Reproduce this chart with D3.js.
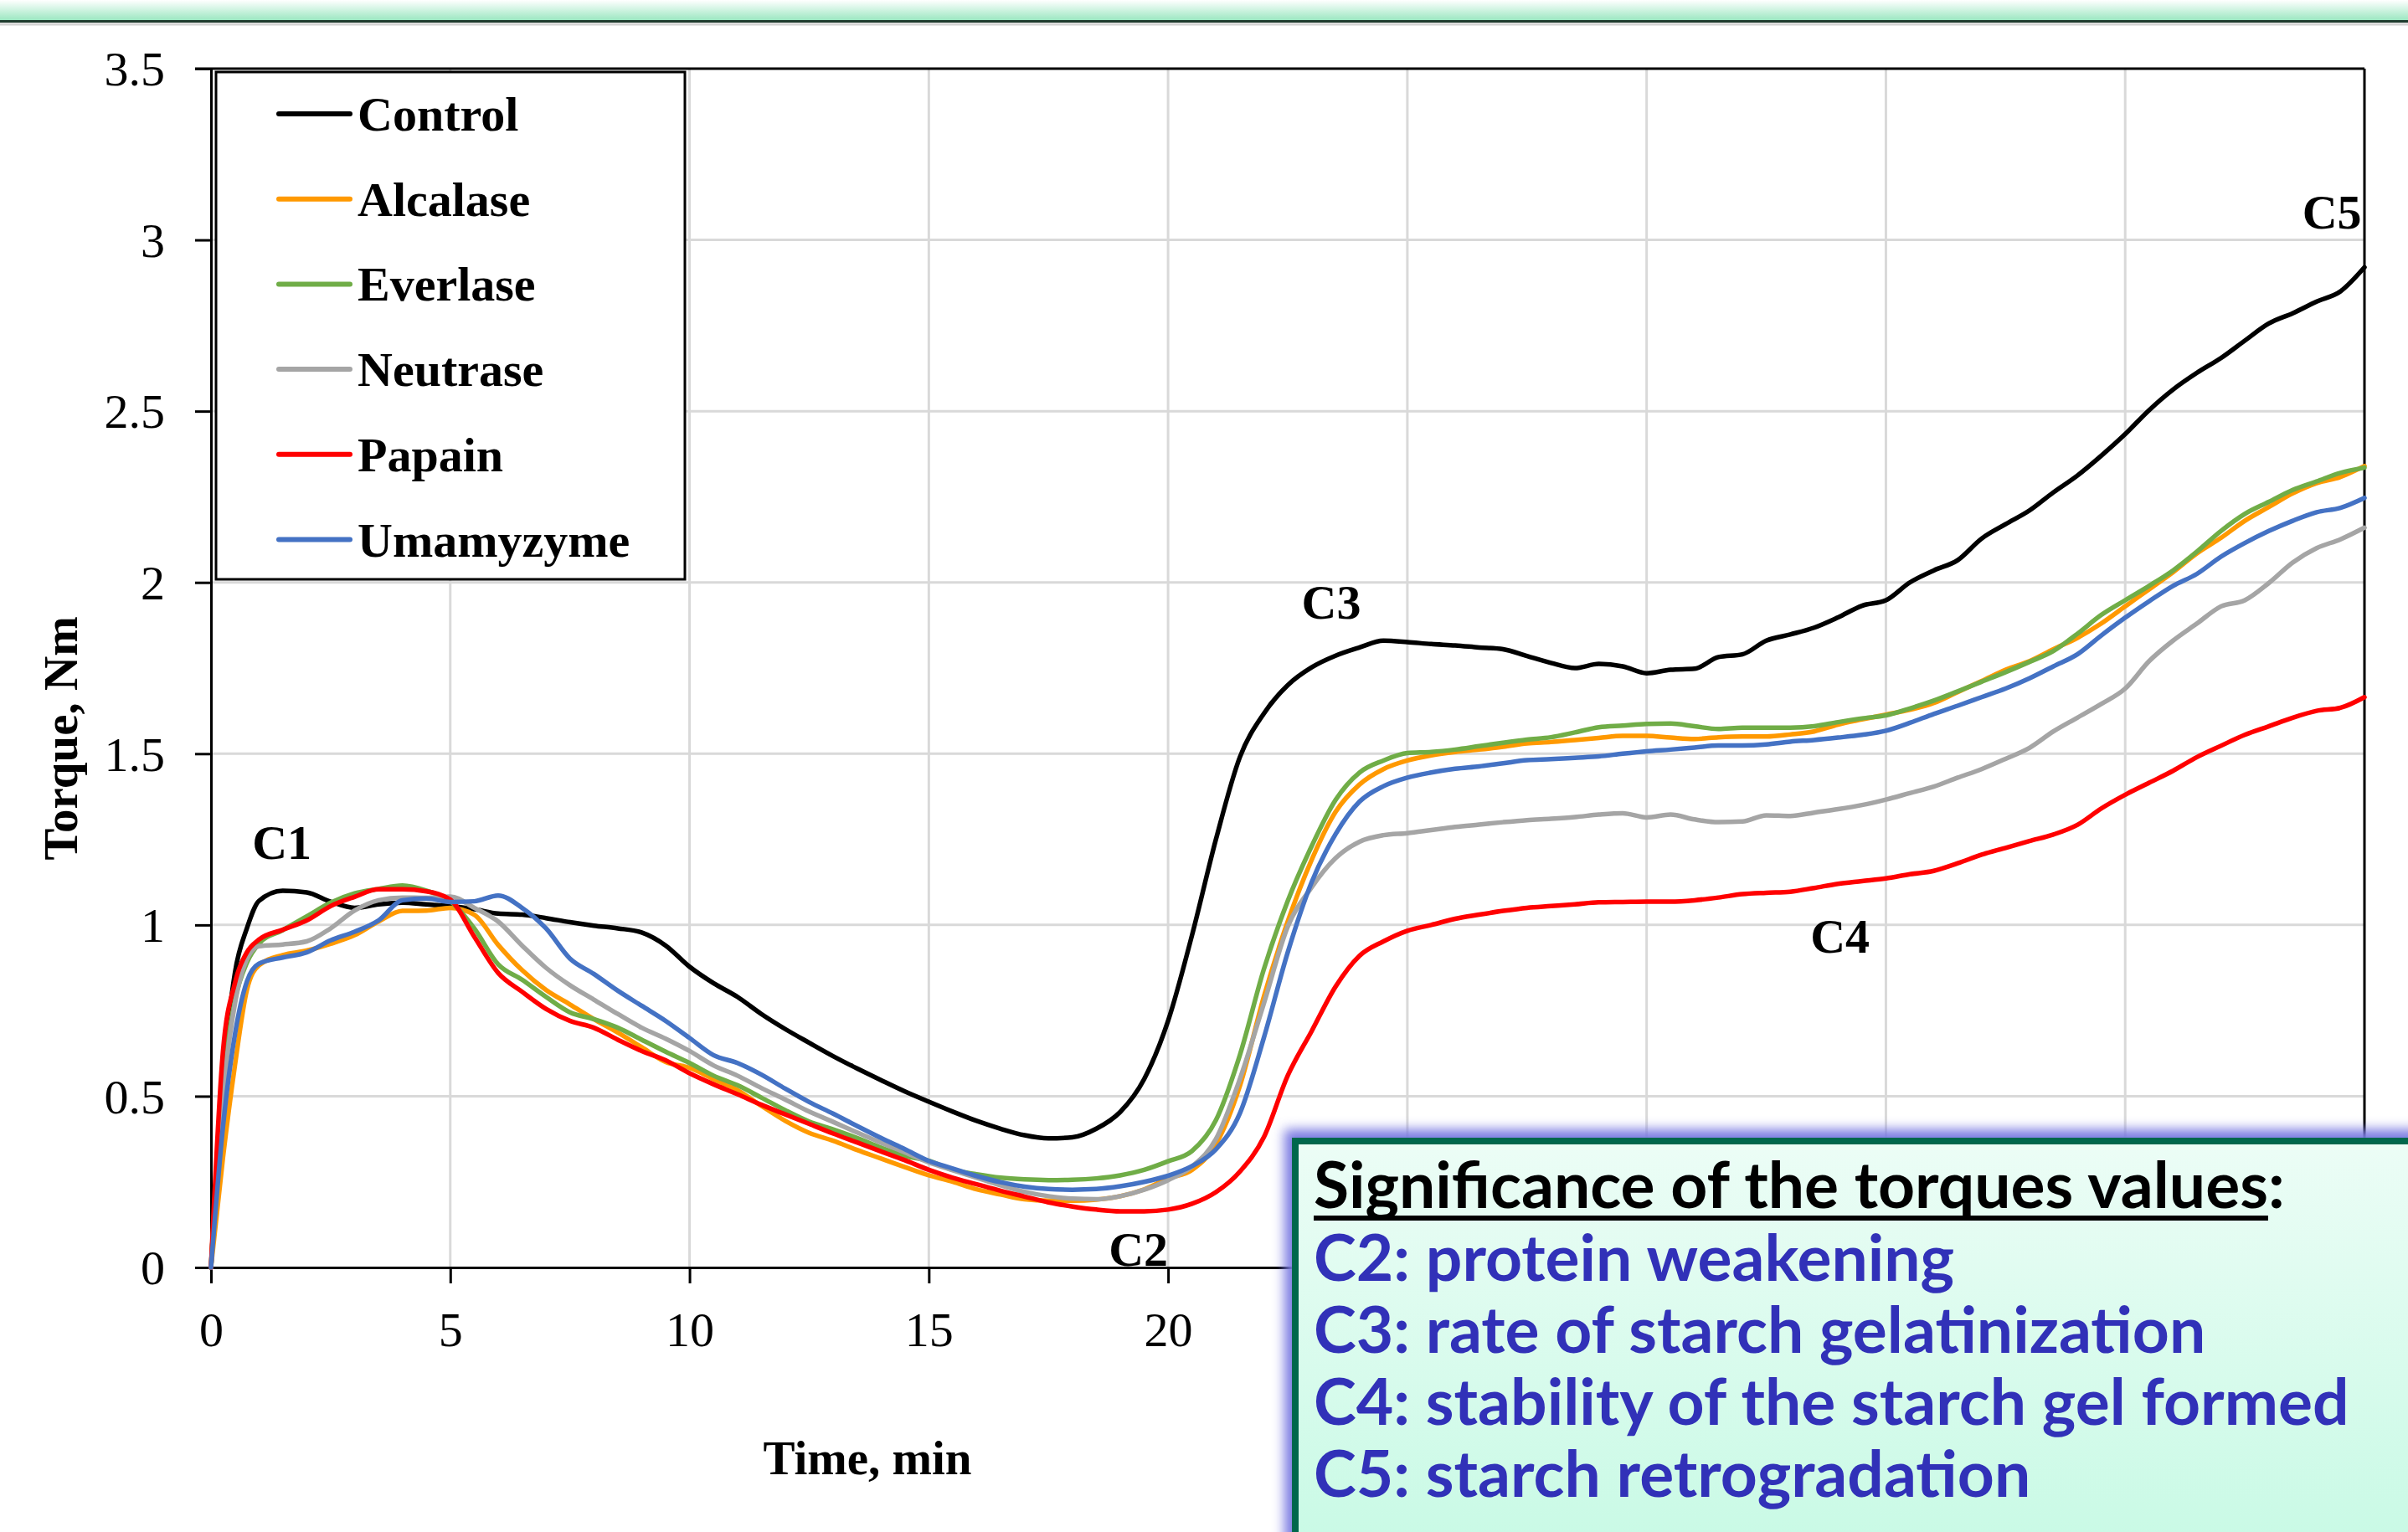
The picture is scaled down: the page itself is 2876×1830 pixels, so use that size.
<!DOCTYPE html>
<html>
<head>
<meta charset="utf-8">
<script src="https://cdn.jsdelivr.net/npm/d3@7/dist/d3.min.js"></script>
<style>
  body { margin: 0; background: #ffffff; }
  svg { display: block; }
</style>
</head>
<body>
<div id="container"></div>
<script>
// time axis (min), shared by all series
var times = [0, 0.25, 0.5, 0.75, 1, 1.5, 2, 2.5, 3, 3.5, 4, 4.5, 5, 5.5, 6, 6.5, 7, 7.5, 8, 8.5,
             9, 9.5, 10, 10.5, 11, 11.5, 12, 12.5, 13, 13.5, 14, 14.5, 15, 15.5, 16, 16.5, 17, 17.5,
             18, 18.5, 19, 19.5, 20, 20.5, 21, 21.5, 22, 22.5, 23, 23.5, 24, 24.5, 25, 25.5, 26, 26.5,
             27, 27.5, 28, 28.5, 29, 29.5, 30, 30.5, 31, 31.5, 32, 32.5, 33, 33.5, 34, 34.5, 35, 35.5,
             36, 36.5, 37, 37.5, 38, 38.5, 39, 39.5, 40, 40.5, 41, 41.5, 42, 42.5, 43, 43.5, 44, 44.5, 45];

// torque values (Nm)
var control = [0, 0.55, 0.86, 0.99, 1.07, 1.10, 1.095, 1.068, 1.05, 1.06, 1.065, 1.06, 1.055, 1.046, 1.033, 1.03, 1.02, 1.008, 0.998, 0.99,
               0.978, 0.94, 0.878, 0.83, 0.79, 0.74, 0.696, 0.656, 0.617, 0.581, 0.547, 0.514, 0.484, 0.455, 0.428, 0.405, 0.386, 0.377,
               0.38, 0.405, 0.454, 0.55, 0.72, 0.97, 1.25, 1.49, 1.617, 1.70, 1.752, 1.786, 1.81, 1.83, 1.826, 1.82, 1.816, 1.81,
               1.805, 1.785, 1.765, 1.75, 1.762, 1.755, 1.735, 1.745, 1.748, 1.782, 1.79, 1.83, 1.848, 1.868, 1.898, 1.932, 1.948, 2.0,
               2.035, 2.065, 2.128, 2.17, 2.21, 2.263, 2.312, 2.37, 2.433, 2.503, 2.563, 2.612, 2.655, 2.706, 2.756, 2.786, 2.82, 2.85, 2.92];

var alcalase = [0, 0.32, 0.59, 0.81, 0.882, 0.912, 0.925, 0.945, 0.97, 1.01, 1.041, 1.042, 1.05, 1.03, 0.942, 0.868, 0.81, 0.768, 0.725, 0.686,
                0.643, 0.60, 0.583, 0.55, 0.518, 0.472, 0.428, 0.393, 0.37, 0.343, 0.318, 0.293, 0.269, 0.25, 0.228, 0.213, 0.199, 0.195,
                0.195, 0.198, 0.208, 0.228, 0.26, 0.285, 0.36, 0.53, 0.79, 1.01, 1.19, 1.33, 1.41, 1.455, 1.48, 1.495, 1.505, 1.512,
                1.52, 1.53, 1.534, 1.54, 1.546, 1.552, 1.552, 1.547, 1.543, 1.548, 1.55, 1.55, 1.556, 1.565, 1.585, 1.60, 1.614, 1.628,
                1.648, 1.68, 1.712, 1.745, 1.77, 1.805, 1.838, 1.88, 1.93, 1.98, 2.03, 2.085, 2.13, 2.18, 2.22, 2.26, 2.29, 2.308, 2.34];

var everlase = [0, 0.54, 0.78, 0.89, 0.945, 0.985, 1.025, 1.065, 1.092, 1.105, 1.115, 1.10, 1.07, 0.99, 0.885, 0.84, 0.79, 0.745, 0.725, 0.70,
                0.665, 0.63, 0.597, 0.56, 0.532, 0.496, 0.459, 0.426, 0.403, 0.378, 0.35, 0.326, 0.311, 0.285, 0.272, 0.262, 0.257, 0.255,
                0.256, 0.26, 0.269, 0.285, 0.31, 0.34, 0.43, 0.62, 0.87, 1.07, 1.23, 1.365, 1.445, 1.48, 1.502, 1.505, 1.512, 1.522,
                1.532, 1.541, 1.548, 1.562, 1.577, 1.582, 1.587, 1.588, 1.58, 1.572, 1.576, 1.576, 1.576, 1.58, 1.592, 1.603, 1.612, 1.632,
                1.655, 1.682, 1.71, 1.738, 1.768, 1.80, 1.85, 1.905, 1.948, 1.99, 2.035, 2.09, 2.15, 2.20, 2.235, 2.27, 2.295, 2.32, 2.335];

var neutrase = [0, 0.50, 0.77, 0.90, 0.938, 0.943, 0.952, 0.99, 1.042, 1.072, 1.08, 1.079, 1.083, 1.05, 1.01, 0.94, 0.875, 0.824, 0.782, 0.74,
                0.70, 0.668, 0.632, 0.59, 0.56, 0.524, 0.49, 0.455, 0.425, 0.394, 0.364, 0.336, 0.307, 0.284, 0.262, 0.24, 0.221, 0.208,
                0.201, 0.199, 0.208, 0.227, 0.255, 0.295, 0.375, 0.55, 0.77, 0.995, 1.11, 1.195, 1.243, 1.262, 1.268, 1.277, 1.286, 1.293,
                1.30, 1.306, 1.31, 1.315, 1.322, 1.326, 1.314, 1.322, 1.308, 1.30, 1.302, 1.32, 1.318, 1.328, 1.338, 1.35, 1.366, 1.385,
                1.404, 1.43, 1.455, 1.485, 1.517, 1.565, 1.605, 1.645, 1.69, 1.77, 1.83, 1.88, 1.93, 1.948, 1.998, 2.058, 2.10, 2.126, 2.16];

var papain = [0, 0.63, 0.83, 0.92, 0.957, 0.986, 1.013, 1.055, 1.082, 1.104, 1.104, 1.098, 1.074, 0.966, 0.86, 0.805, 0.755, 0.72, 0.70, 0.665,
              0.632, 0.605, 0.567, 0.535, 0.506, 0.475, 0.447, 0.419, 0.391, 0.365, 0.339, 0.313, 0.285, 0.262, 0.243, 0.224, 0.207, 0.19,
              0.178, 0.169, 0.164, 0.164, 0.169, 0.186, 0.22, 0.28, 0.38, 0.56, 0.69, 0.82, 0.91, 0.952, 0.983, 1.0, 1.018, 1.03,
              1.041, 1.05, 1.055, 1.06, 1.066, 1.067, 1.068, 1.068, 1.072, 1.08, 1.09, 1.094, 1.097, 1.108, 1.12, 1.128, 1.136, 1.148,
              1.158, 1.18, 1.205, 1.225, 1.245, 1.264, 1.292, 1.34, 1.38, 1.415, 1.45, 1.49, 1.523, 1.555, 1.58, 1.605, 1.625, 1.634, 1.665];

var umamyzyme = [0, 0.41, 0.68, 0.835, 0.887, 0.905, 0.92, 0.955, 0.98, 1.013, 1.072, 1.077, 1.067, 1.069, 1.086, 1.05, 0.99, 0.902, 0.857, 0.808,
                 0.764, 0.72, 0.67, 0.62, 0.597, 0.563, 0.522, 0.483, 0.449, 0.413, 0.378, 0.345, 0.311, 0.289, 0.267, 0.249, 0.236, 0.229,
                 0.227, 0.229, 0.237, 0.25, 0.268, 0.296, 0.345, 0.45, 0.67, 0.92, 1.125, 1.265, 1.36, 1.405, 1.43, 1.445, 1.456, 1.463,
                 1.472, 1.481, 1.484, 1.488, 1.492, 1.50, 1.507, 1.512, 1.518, 1.524, 1.524, 1.527, 1.535, 1.54, 1.547, 1.555, 1.567, 1.59,
                 1.616, 1.64, 1.665, 1.69, 1.72, 1.755, 1.79, 1.845, 1.897, 1.945, 1.99, 2.025, 2.075, 2.115, 2.15, 2.18, 2.205, 2.218, 2.247];

var seriesNames = ["Control", "Alcalase", "Everlase", "Neutrase", "Papain", "Umamyzyme"];
var seriesValues = [control, alcalase, everlase, neutrase, papain, umamyzyme];
var seriesColors = ["#000000", "#ff9900", "#70ad47", "#a5a5a5", "#ff0000", "#4472c4"];

var xTicks = [0, 5, 10, 15, 20, 25, 30, 35, 40, 45];
// labels of 25..45 sit under the significance box in the original
var xTickLabels = ["0", "5", "10", "15", "20", "", "", "", "", ""];
var yTicks = [0, 0.5, 1, 1.5, 2, 2.5, 3, 3.5];
var yTickLabels = ["0", "0.5", "1", "1.5", "2", "2.5", "3", "3.5"];

// point labels: name, time, torque
var pointLabels = ["C1", "C2", "C3", "C4", "C5"];
var pointTimes = [0.86, 18.76, 22.79, 33.42, 43.7];
var pointTorques = [1.192, 0.005, 1.894, 0.919, 3.033];

var boxTitle = "Significance of the torques values:";
var boxLines = ["C2: protein weakening",
                "C3: rate of starch gelatinization",
                "C4: stability of the starch gel formed",
                "C5: starch retrogradation"];

makeChart();

function makeChart () {

    var width = 2876;
    var height = 1830;
    var margin = {left: 252, top: 82, right: 52, bottom: 316};
    var serif = "'Liberation Serif', 'Times New Roman', serif";

    const svg = d3.select("#container")
                  .append("svg")
                  .attr("width", width)
                  .attr("height", height);

    var defs = svg.append("defs");

    var band = defs.append("linearGradient")
                   .attr("id", "band")
                   .attr("x1", 0).attr("y1", 0).attr("x2", 0).attr("y2", 1);
    band.append("stop").attr("offset", "0%").attr("stop-color", "#ffffff");
    band.append("stop").attr("offset", "100%").attr("stop-color", "#98e6bf");

    var boxFill = defs.append("linearGradient")
                      .attr("id", "boxFill")
                      .attr("x1", 0).attr("y1", 0).attr("x2", 0).attr("y2", 1);
    boxFill.append("stop").attr("offset", "0%").attr("stop-color", "#ecfdf6");
    boxFill.append("stop").attr("offset", "100%").attr("stop-color", "#c0f9e1");

    var glow = defs.append("filter")
                   .attr("id", "glow")
                   .attr("x", "-5%").attr("y", "-10%")
                   .attr("width", "110%").attr("height", "120%");
    glow.append("feGaussianBlur").attr("stdDeviation", 7);

    // 1. slide band at the top
    svg.append("rect")
       .attr("x", 0).attr("y", 0)
       .attr("width", width).attr("height", 25)
       .attr("fill", "url(#band)");
    svg.append("line")
       .attr("x1", 0).attr("x2", width)
       .attr("y1", 25.5).attr("y2", 25.5)
       .attr("stroke", "#1e3b2e")
       .attr("stroke-width", 3);
    svg.append("line")
       .attr("x1", 0).attr("x2", width)
       .attr("y1", 29).attr("y2", 29)
       .attr("stroke", "#d4d4d4")
       .attr("stroke-width", 3);

    // 2. scales
    var xScale = d3.scaleLinear()
                   .domain([0, 45])
                   .range([margin.left, width - margin.right]);

    var yScale = d3.scaleLinear()
                   .domain([0, 3.5])
                   .range([height - margin.bottom, margin.top]);

    // 3. gridlines
    svg.append("g")
       .selectAll("line")
       .data(xTicks.slice(1, -1))
       .enter()
       .append("line")
       .attr("x1", (d) => xScale(d))
       .attr("x2", (d) => xScale(d))
       .attr("y1", yScale(0))
       .attr("y2", yScale(3.5))
       .attr("stroke", "#d9d9d9")
       .attr("stroke-width", 3);

    svg.append("g")
       .selectAll("line")
       .data(yTicks.slice(1, -1))
       .enter()
       .append("line")
       .attr("x1", xScale(0))
       .attr("x2", xScale(45))
       .attr("y1", (d) => yScale(d))
       .attr("y2", (d) => yScale(d))
       .attr("stroke", "#d9d9d9")
       .attr("stroke-width", 3);

    // 4. axes
    var xAxis = d3.axisBottom(xScale)
                  .tickValues(xTicks)
                  .tickSize(19)
                  .tickSizeOuter(0)
                  .tickPadding(34)
                  .tickFormat((d, i) => xTickLabels[i]);

    var yAxis = d3.axisLeft(yScale)
                  .tickValues(yTicks)
                  .tickSize(19)
                  .tickSizeOuter(0)
                  .tickPadding(36)
                  .tickFormat((d, i) => yTickLabels[i]);

    var gx = svg.append("g")
                .attr("transform", "translate(0, " + yScale(0) + ")")
                .call(xAxis);

    var gy = svg.append("g")
                .attr("transform", "translate(" + xScale(0) + ", 0)")
                .call(yAxis);

    [gx, gy].forEach(function (g) {
        g.select(".domain").attr("stroke", "#000").attr("stroke-width", 3);
        g.selectAll(".tick line").attr("stroke", "#000").attr("stroke-width", 3);
        g.selectAll(".tick text")
         .attr("fill", "#000")
         .style("font-family", serif)
         .style("font-size", "58px");
    });
    gy.selectAll(".tick text").attr("dy", "0.34em");
    gx.selectAll(".tick text").filter((d, i) => xTickLabels[i] === "").remove();

    // top and right frame
    svg.append("line")
       .attr("x1", xScale(0) - 19).attr("x2", xScale(45))
       .attr("y1", yScale(3.5)).attr("y2", yScale(3.5))
       .attr("stroke", "#000").attr("stroke-width", 3);
    svg.append("line")
       .attr("x1", xScale(45)).attr("x2", xScale(45))
       .attr("y1", yScale(3.5)).attr("y2", yScale(0))
       .attr("stroke", "#000").attr("stroke-width", 3);

    // 5. series lines
    var line = d3.line()
                 .x((d, i) => xScale(times[i]))
                 .y((d) => yScale(d))
                 .curve(d3.curveMonotoneX);

    svg.append("g")
       .selectAll("path")
       .data(seriesValues)
       .enter()
       .append("path")
       .attr("d", (d) => line(d))
       .attr("fill", "none")
       .attr("stroke", (d, i) => seriesColors[i])
       .attr("stroke-width", 5.5)
       .attr("stroke-linejoin", "round")
       .attr("stroke-linecap", "round");

    // 6. axis titles and point labels
    svg.append("text")
       .attr("x", 1036)
       .attr("y", 1761)
       .attr("text-anchor", "middle")
       .style("font-family", serif)
       .style("font-size", "57px")
       .style("font-weight", "bold")
       .text("Time, min");

    svg.append("text")
       .attr("transform", "translate(92, 882) rotate(-90)")
       .attr("text-anchor", "middle")
       .style("font-family", serif)
       .style("font-size", "57px")
       .style("font-weight", "bold")
       .text("Torque, Nm");

    svg.append("g")
       .selectAll("text")
       .data(pointLabels)
       .enter()
       .append("text")
       .attr("x", (d, i) => xScale(pointTimes[i]))
       .attr("y", (d, i) => yScale(pointTorques[i]))
       .style("font-family", serif)
       .style("font-size", "58px")
       .style("font-weight", "bold")
       .text((d) => d);

    // 7. legend
    var legend = svg.append("g");
    legend.append("rect")
          .attr("x", 258).attr("y", 86)
          .attr("width", 560).attr("height", 606)
          .attr("fill", "#fff")
          .attr("stroke", "#000")
          .attr("stroke-width", 3);

    var rowY = (i) => 136 + i * 101.7;

    legend.selectAll("line")
          .data(seriesNames)
          .enter()
          .append("line")
          .attr("x1", 333).attr("x2", 418)
          .attr("y1", (d, i) => rowY(i))
          .attr("y2", (d, i) => rowY(i))
          .attr("stroke", (d, i) => seriesColors[i])
          .attr("stroke-width", 6)
          .attr("stroke-linecap", "round");

    legend.selectAll("text")
          .data(seriesNames)
          .enter()
          .append("text")
          .attr("x", 427)
          .attr("y", (d, i) => rowY(i) + 20)
          .style("font-family", serif)
          .style("font-size", "58px")
          .style("font-weight", "bold")
          .text((d) => d);

    // 8. significance box
    svg.append("rect")
       .attr("x", 1534).attr("y", 1349)
       .attr("width", 1400).attr("height", 600)
       .attr("fill", "#7c7ce2")
       .attr("filter", "url(#glow)");

    svg.append("rect")
       .attr("x", 1547).attr("y", 1363)
       .attr("width", 1400).attr("height", 600)
       .attr("fill", "url(#boxFill)")
       .attr("stroke", "#00674c")
       .attr("stroke-width", 8);

    var sans = "Lato, 'Noto Sans', sans-serif";

    var title = svg.append("text")
                   .attr("x", 1569)
                   .attr("y", 1443)
                   .style("font-family", sans)
                   .style("font-weight", "bold")
                   .style("font-size", "100px")
                   .attr("fill", "#000")
                   .text(boxTitle);

    // fit the title to the width it has in the original
    var fs = 100 * 1160 / title.node().getComputedTextLength();
    title.style("font-size", fs + "px");
    var underLen = title.node().getSubStringLength(0, boxTitle.length - 1);

    svg.append("line")
       .attr("x1", 1569).attr("x2", 1569 + underLen)
       .attr("y1", 1455).attr("y2", 1455)
       .attr("stroke", "#000")
       .attr("stroke-width", 6);

    svg.append("g")
       .selectAll("text")
       .data(boxLines)
       .enter()
       .append("text")
       .attr("x", 1569)
       .attr("y", (d, i) => 1530 + i * 86)
       .style("font-family", sans)
       .style("font-weight", "bold")
       .style("font-size", fs + "px")
       .attr("fill", "#3131b8")
       .text((d) => d);
}
</script>
</body>
</html>
